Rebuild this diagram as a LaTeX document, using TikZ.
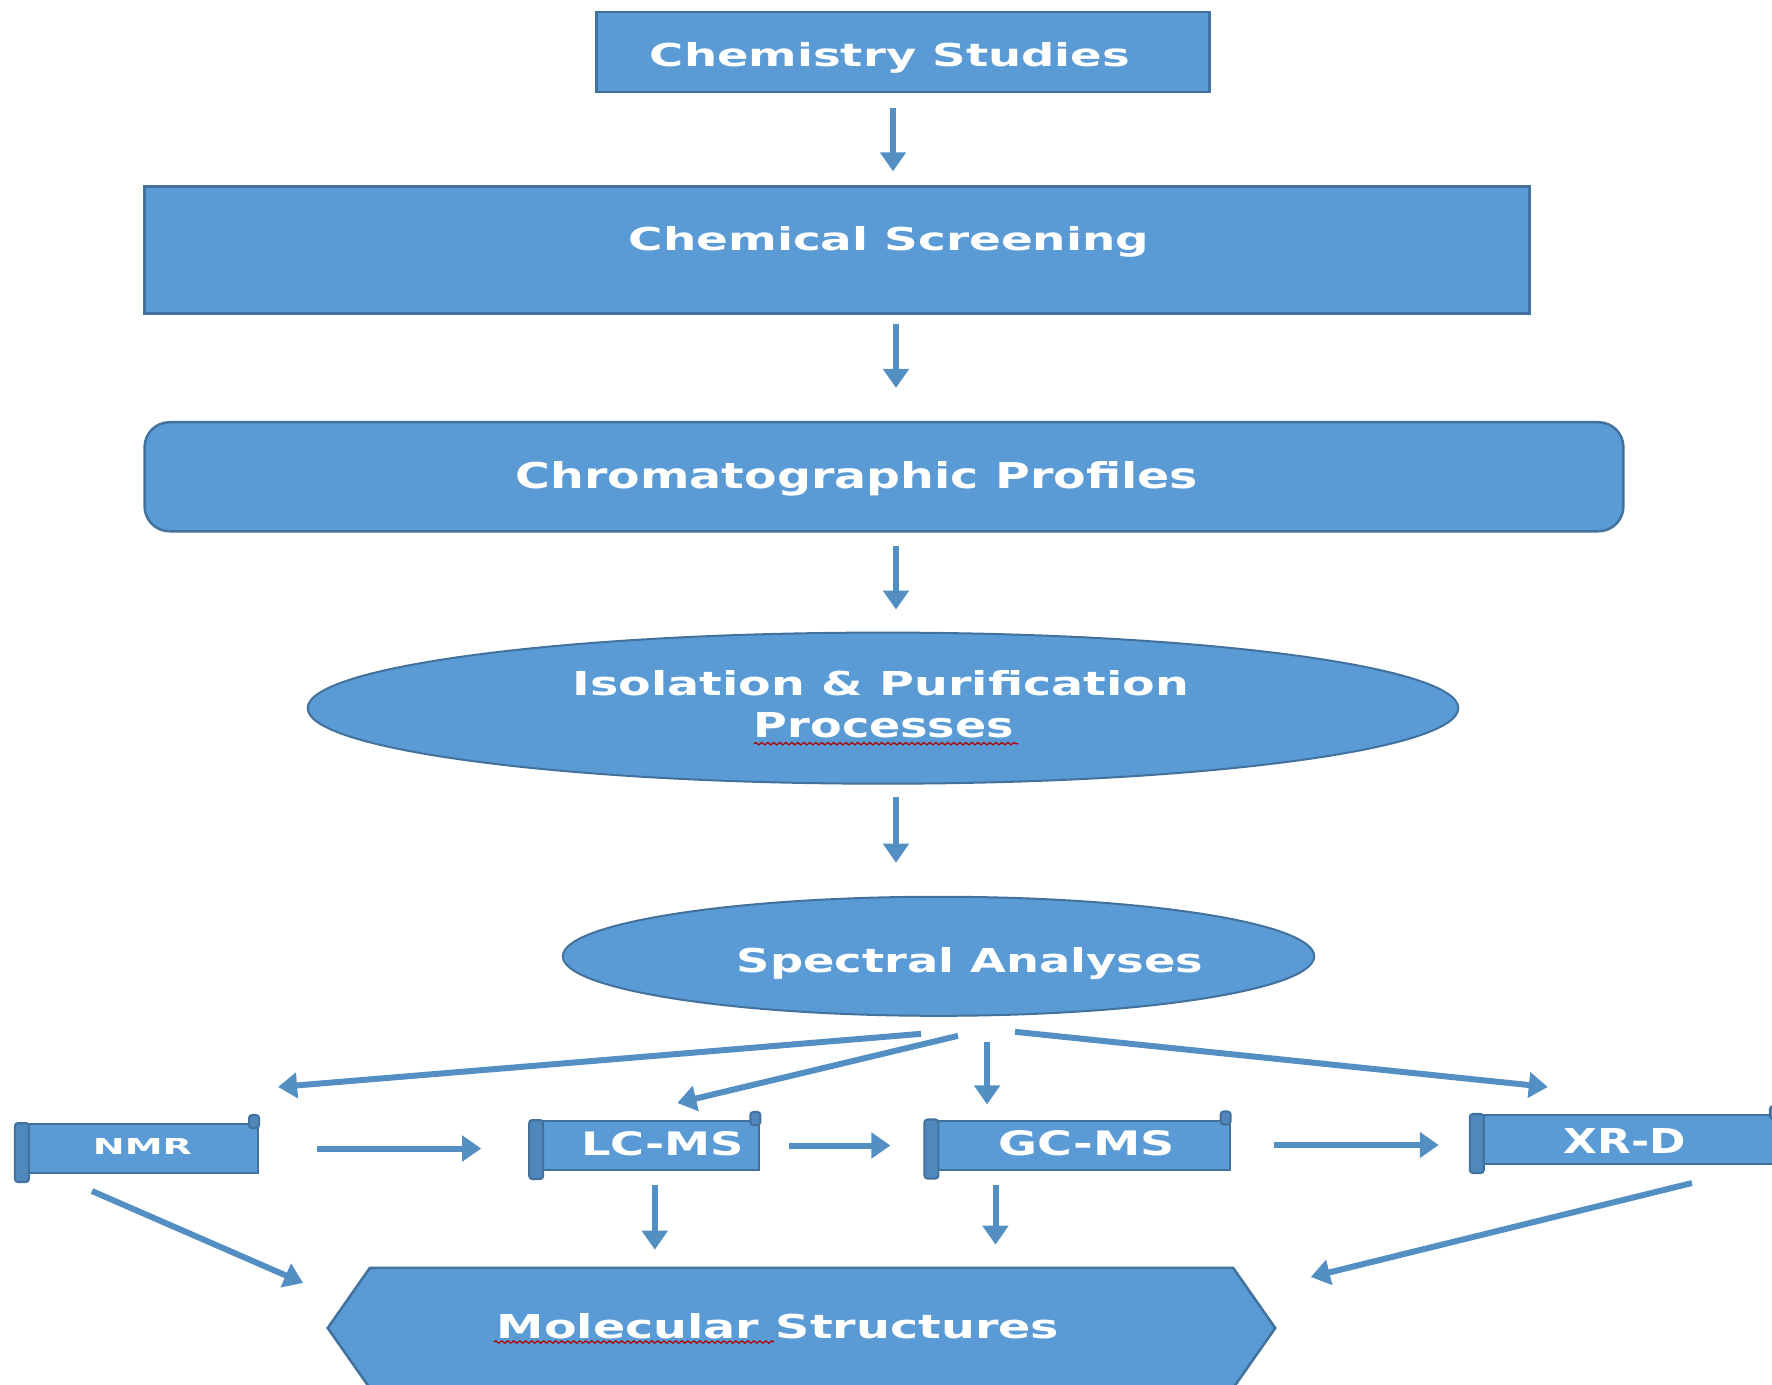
\documentclass[tikz,border=0pt]{standalone}
\usepackage{fontspec}
\setmainfont{DejaVu Sans}
\usepackage{tikz}
\usetikzlibrary{shapes, shapes.geometric, shapes.symbols, positioning, calc, arrows.meta, decorations.pathmorphing}
\definecolor{boxblue}{HTML}{5B9BD5}
\definecolor{edgeblue}{HTML}{41719C}
\colorlet{arrowblue}{boxblue!92!black}

% width, height, x offset, baseline offset, text
\newcommand{\lbl}[5]{\raisebox{#4}[0pt][0pt]{\makebox[0pt]{\hspace*{#3}\resizebox{#1}{#2}{\bfseries #5}\hspace*{-#3}}}}

\begin{document}
\begin{tikzpicture}[x=0.01cm, y=-0.01cm,
    block/.style={rectangle, 
      fill=boxblue, 
      draw=edgeblue, 
      line width=0.025cm, 
      inner sep=0pt},
    roundblock/.style={block, rounded corners=0.25cm},
    oval/.style={ellipse, 
      fill=boxblue, 
      draw=edgeblue, 
      line width=0.02cm, 
      inner sep=0pt},
    scroll/.style={rectangle, 
      fill=boxblue, 
      draw=edgeblue, 
      line width=0.02cm, 
      inner sep=0pt, 
      minimum height=0.49cm},
    roll/.style={fill=boxblue!88!black, draw=edgeblue, line width=0.02cm, rounded corners=0.03cm},
    hexa/.style={signal, 
      signal to=west and east, 
      signal pointer angle=110, 
      fill=boxblue, 
      draw=edgeblue, 
      line width=0.025cm, 
      inner sep=0pt},
    flow/.style={-{Triangle[length=0.19cm, width=0.25cm]}, draw=arrowblue, line width=0.06cm},
    squiggle/.style={draw=red!70!black, line width=0.012cm, decorate, 
      decoration={snake, amplitude=0.012cm, segment length=0.06cm}},
    text=white]

  \useasboundingbox (0,0) rectangle (1772,1384);

  \node [block, minimum width=6.13cm, minimum height=0.80cm] (study) at (903,52) 
    {\lbl{4.80cm}{0.24cm}{-0.13cm}{-0.14cm}{Chemistry Studies}};

  \node [block, 
    minimum width=13.84cm, 
    minimum height=1.27cm, 
    below=0.92cm of study.south, 
    anchor=north, 
    xshift=-0.66cm] (screen) 
    {\lbl{5.20cm}{0.24cm}{0.52cm}{0cm}{Chemical Screening}};

  \node [roundblock, 
    minimum width=14.78cm, 
    minimum height=1.09cm, 
    below=1.06cm of screen.south, 
    anchor=north, 
    xshift=0.47cm] (chroma) 
    {\lbl{6.82cm}{0.27cm}{-0.27cm}{-0.115cm}{Chromatographic Profiles}};

  \node [oval, 
    minimum width=11.50cm, 
    minimum height=1.51cm, 
    below=0.99cm of chroma.south, 
    anchor=north, 
    xshift=-0.01cm] (iso) 
    {\lbl{6.16cm}{0.25cm}{-0.02cm}{0.125cm}{Isolation \& Purification}%
     \lbl{2.60cm}{0.25cm}{0.01cm}{-0.295cm}{Processes}};

  \node [oval, 
    minimum width=7.51cm, 
    minimum height=1.19cm, 
    below=1.11cm of iso.south, 
    anchor=north, 
    xshift=0.555cm] (spec) 
    {\lbl{4.66cm}{0.25cm}{0.315cm}{-0.165cm}{Spectral Analyses}};


% TECHNIQUES

  \node [scroll, minimum width=2.42cm] (nmr) at (137,1148.5) 
    {\lbl{0.99cm}{0.16cm}{0.055cm}{-0.055cm}{NMR}};
  \node [scroll, minimum width=2.29cm, right=2.70cm of nmr, yshift=0.03cm] (lcms) 
    {\lbl{1.63cm}{0.24cm}{0.18cm}{-0.095cm}{LC-MS}};
  \node [scroll, minimum width=3.04cm, right=1.64cm of lcms, yshift=0.005cm] (gcms) 
    {\lbl{1.76cm}{0.25cm}{0.09cm}{-0.10cm}{GC-MS}};
  \node [scroll, minimum width=3.08cm, right=2.39cm of gcms, yshift=0.055cm] (xrd) 
    {\lbl{1.22cm}{0.25cm}{0cm}{-0.135cm}{XR-D}};

  \foreach \s in {nmr, lcms, gcms, xrd} {
    \filldraw[roll] (\s.north west) rectangle ([xshift=0.14cm, yshift=-0.08cm]\s.south west);
    \filldraw[roll] ([xshift=-0.1cm, yshift=-0.05cm]\s.north east) rectangle ([yshift=0.08cm]\s.north east);
  }

  \node [hexa, minimum width=9.47cm, minimum height=1.20cm] (mol) at (801.5,1328) 
    {\lbl{5.62cm}{0.25cm}{-0.235cm}{-0.10cm}{Molecular Structures}};

  % spell-check marks
  \draw[squiggle] ([xshift=-1.29cm, yshift=-0.355cm]iso.center) -- ++(2.64cm,0);
  \draw[squiggle] ([xshift=-3.075cm, yshift=-0.14cm]mol.center) -- ++(2.80cm,0);


% ARROWS

  \draw[flow, shorten <=0.15cm, shorten >=0.14cm] ([xshift=-0.1cm]study.south) 
    -- ([xshift=-0.1cm]study.south |- screen.north);
  \draw[flow, shorten <=0.09cm, shorten >=0.33cm] ([xshift=0.59cm]screen.south) 
    -- ([xshift=0.59cm]screen.south |- chroma.north);
  \draw[flow, shorten <=0.13cm, shorten >=0.22cm] ([xshift=0.12cm]chroma.south) 
    -- ([xshift=0.12cm]chroma.south |- iso.north);
  \draw[flow, shorten <=0.12cm, shorten >=0.33cm] ([xshift=0.13cm]iso.south) 
    -- ([xshift=0.13cm]iso.south |- spec.north);

  \draw[flow] ([xshift=-0.175cm, yshift=-0.17cm]spec.south) 
    -- ([xshift=0.19cm, yshift=0.36cm]nmr.north east);
  \draw[flow] ([xshift=0.195cm, yshift=-0.19cm]spec.south) 
    -- ([xshift=0.325cm, yshift=0.17cm]lcms.north);
  \draw[flow, shorten >=0.15cm] ([xshift=0.485cm, yshift=-0.25cm]spec.south) 
    -- ([xshift=0.485cm]spec.south |- gcms.north);
  \draw[flow] ([xshift=0.765cm, yshift=-0.15cm]spec.south) 
    -- ([xshift=0.78cm, yshift=0.27cm]xrd.north west);

  \draw[flow, shorten <=0.58cm, shorten >=0.48cm] (nmr.east) -- (nmr.east -| lcms.west);
  \draw[flow, shorten <=0.29cm, shorten >=0.34cm] (lcms.east) -- (lcms.east -| gcms.west);
  \draw[flow, shorten <=0.43cm, shorten >=0.31cm] (gcms.east) -- (gcms.east -| xrd.west);

  \draw[flow, shorten <=0.14cm, shorten >=0.17cm] ([xshift=0.1cm]lcms.south) 
    -- ([xshift=0.1cm]lcms.south |- mol.north);
  \draw[flow, shorten <=0.14cm, shorten >=0.22cm] ([xshift=-0.82cm]gcms.south) 
    -- ([xshift=-0.82cm]gcms.south |- mol.north);

  \draw[flow] ([xshift=0.77cm, yshift=-0.17cm]nmr.south west) 
    -- ([xshift=-0.23cm, yshift=0.45cm]mol.west);
  \draw[flow] ([xshift=-0.88cm, yshift=-0.18cm]xrd.south east) 
    -- ([xshift=0.34cm, yshift=0.51cm]mol.east);

\end{tikzpicture}
\end{document}
